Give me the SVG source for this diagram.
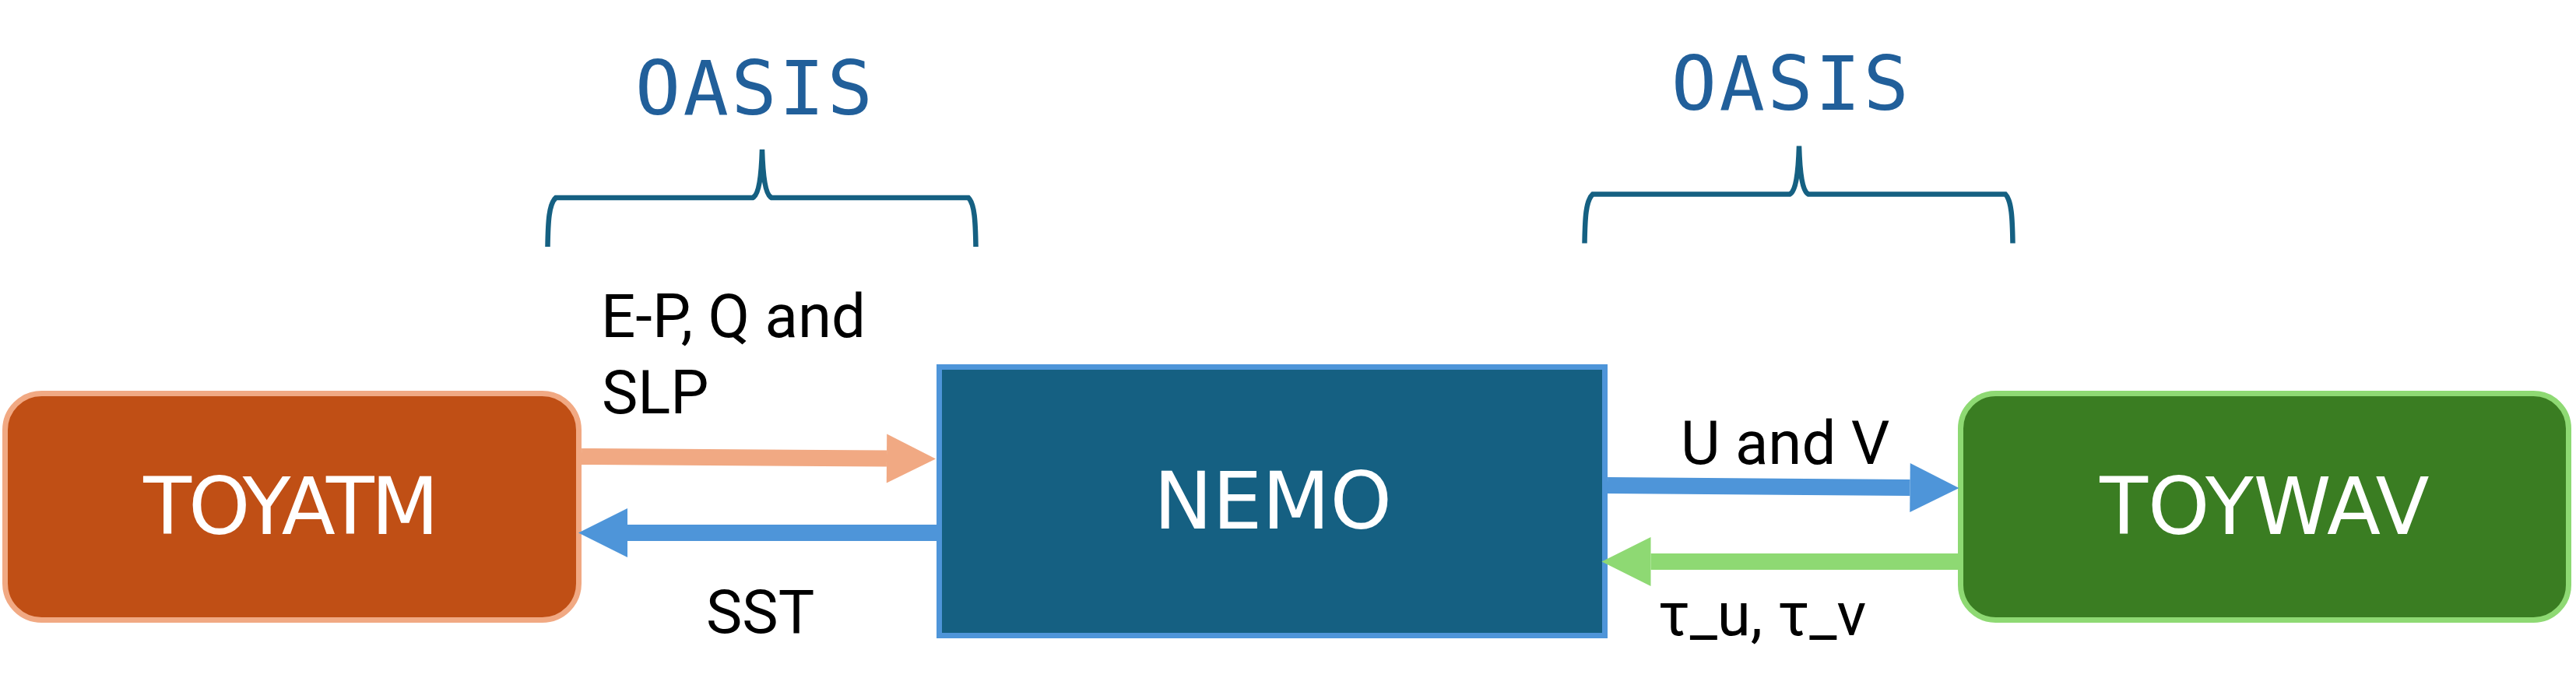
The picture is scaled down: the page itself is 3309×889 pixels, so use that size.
<svg xmlns="http://www.w3.org/2000/svg" width="3309" height="889" viewBox="0 0 3309 889">
  <style>
    .node-text { font-family: "DejaVu Sans", "Liberation Sans", sans-serif; font-size: 101px; fill: #FFFFFF; text-anchor: middle; }
    .label { font-family: Roboto, "Liberation Sans", sans-serif; font-size: 78px; fill: #000000; }
    .oasis { font-family: "DejaVu Sans Mono", "Liberation Mono", monospace; font-size: 97px; fill: #215F9A; text-anchor: middle; letter-spacing: 3.3px; }
    .brace { fill: none; stroke: #156082; stroke-width: 6.5; }
    .conn { fill: none; stroke-width: 21; }
  </style>
  <defs>
    <marker id="head-orange" markerUnits="userSpaceOnUse" markerWidth="64" markerHeight="64" refX="0" refY="31.5" orient="auto" overflow="visible">
      <path d="M0,0 L63,31.5 L0,63 Z" fill="#F1A983"/>
    </marker>
    <marker id="head-blue" markerUnits="userSpaceOnUse" markerWidth="64" markerHeight="64" refX="0" refY="31.5" orient="auto" overflow="visible">
      <path d="M0,0 L63,31.5 L0,63 Z" fill="#4E95D9"/>
    </marker>
    <marker id="head-green" markerUnits="userSpaceOnUse" markerWidth="64" markerHeight="64" refX="0" refY="31.5" orient="auto" overflow="visible">
      <path d="M0,0 L63,31.5 L0,63 Z" fill="#8ED973"/>
    </marker>
    <path id="brace-shape" d="M703.5,317 C704,285 705,262 714,254 L967,254 C975,250 978,225 979,192 C980,225 983,250 991,254 L1244,254 C1252,262 1253,285 1253.5,317"/>
  </defs>

  <g id="oasis-left">
    <text class="oasis" x="970" y="147">OASIS</text>
    <use href="#brace-shape" class="brace"/>
  </g>
  <g id="oasis-right">
    <text class="oasis" x="2301" y="141">OASIS</text>
    <use href="#brace-shape" class="brace" transform="translate(1332,-4.5)"/>
  </g>

  <g id="toyatm">
    <rect x="6.5" y="505.5" width="737" height="291" rx="47" ry="47" fill="#C04F15" stroke="#F1A983" stroke-width="7"/>
    <text class="node-text" x="372" y="686" letter-spacing="-4">TOYATM</text>
  </g>
  <g id="nemo">
    <rect x="1206.5" y="471.5" width="855" height="345" fill="#156082" stroke="#4E95D9" stroke-width="7"/>
    <text class="node-text" x="1635" y="679">NEMO</text>
  </g>
  <g id="toywav">
    <rect x="2518.5" y="505.5" width="781" height="291" rx="45" ry="45" fill="#3A7D22" stroke="#8ED973" stroke-width="7"/>
    <text class="node-text" x="2909" y="686">TOYWAV</text>
  </g>

  <g id="connectors">
    <line class="conn" x1="747" y1="586.5" x2="1139" y2="589" stroke="#F1A983" marker-end="url(#head-orange)"/>
    <line class="conn" x1="1203" y1="684.5" x2="806" y2="684.5" stroke="#4E95D9" marker-end="url(#head-blue)"/>
    <line class="conn" x1="2065" y1="623.5" x2="2453.5" y2="626.5" stroke="#4E95D9" marker-end="url(#head-blue)"/>
    <line class="conn" x1="2521" y1="721.5" x2="2120.5" y2="721.5" stroke="#8ED973" marker-end="url(#head-green)"/>
  </g>

  <g id="connector-labels">
    <text class="label" x="772" y="433">E-P, Q and</text>
    <text class="label" x="773" y="531">SLP</text>
    <text class="label" x="907" y="813">SST</text>
    <text class="label" x="2159" y="596">U and V</text>
    <text class="label" x="2130" y="816">τ_u, τ_v</text>
  </g>
</svg>
